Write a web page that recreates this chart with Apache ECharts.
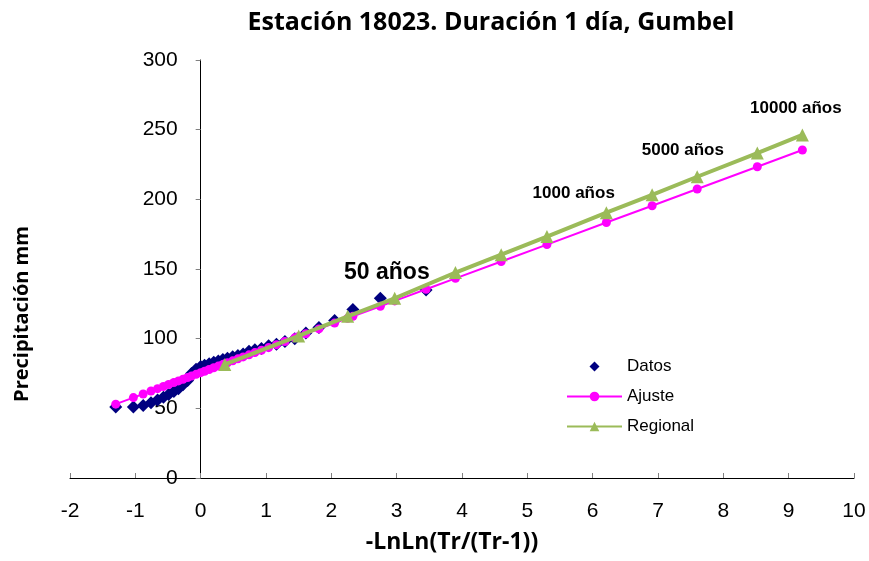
<!DOCTYPE html>
<html><head><meta charset="utf-8">
<script src="https://cdn.jsdelivr.net/npm/echarts@6/dist/echarts.min.js"></script>
<style>html,body{margin:0;padding:0;background:#fff}#c{width:869px;height:561px}</style>
</head><body><div id="c"></div>
<script>
// ---- data ----
const datosX = [-1.30,-1.03,-0.88,-0.76,-0.66,-0.57,-0.49,-0.41,-0.34,-0.27,-0.20,-0.14,-0.07,0.00,0.06,0.13,0.20,0.27,0.34,0.41,0.49,0.57,0.65,0.74,0.83,0.93,1.04,1.16,1.29,1.44,1.61,1.81,2.05,2.33,2.75,3.45];
const datosY = [51,51,52,54,56,58,60,62,64,67,70,75,78,80,81,82,83,84,85,86,87,88,89,91,92,93,95,96,98,100,104,108,113,121,129,135];

const ajusteX = [-1.30,-1.03,-0.88,-0.76,-0.66,-0.57,-0.49,-0.41,-0.34,-0.27,-0.20,-0.14,-0.07,0.00,0.06,0.13,0.20,0.27,0.34,0.37,0.41,0.49,0.57,0.65,0.74,0.83,0.93,1.04,1.16,1.29,1.44,1.50,1.61,1.81,2.05,2.25,2.33,2.75,2.97,3.45,3.90,4.60,5.30,6.21,6.91,7.60,8.52,9.21];
const ajusteY = [53.0,57.7,60.3,62.4,64.1,65.7,67.1,68.5,69.7,70.9,72.1,73.2,74.4,75.6,76.6,77.9,79.1,80.3,81.5,82.0,82.7,84.1,85.5,86.9,88.4,90.0,91.7,93.6,95.7,98.0,100.6,101.6,103.5,107.0,111.2,114.6,116.0,123.3,127.1,135.5,143.3,155.4,167.5,183.4,195.4,207.4,223.4,235.4];

const regionalX = [0.37,1.50,2.25,2.97,3.90,4.60,5.30,6.21,6.91,7.60,8.52,9.21];
const regionalY = [81.5,102.0,116.0,129.0,147.4,160.3,173.3,190.4,203.2,216.2,233.2,246.2];

const annoText = ['50 años','1000 años','5000 años','10000 años'];
const annoX = [2.85,5.71,7.38,9.11];
const annoY = [147.5,204.5,235.5,265];
const annoSize = [23,17,17,17];

const xMin = -2, xMax = 10, xStep = 1;
const yMin = 0, yMax = 300, yStep = 50;

const titleText = 'Estación 18023. Duración 1 día, Gumbel';
const xName = '-LnLn(Tr/(Tr-1))';
const yName = 'Precipitación mm';

const zip = (a, b) => a.map((v, i) => [v, b[i]]);

const chart = echarts.init(document.getElementById('c'), null, {renderer: 'canvas'});
const sans = 'Liberation Sans, Arial, sans-serif';
const head = 'Open Sans, sans-serif';

const gridLeft = 70, gridRight = 15;
const plotW = 869 - gridLeft - gridRight;
// y axis sits at x = 0 of the x axis
const yAxisOffset = -plotW * (0 - xMin) / (xMax - xMin);

chart.setOption({
  animation: false,
  backgroundColor: '#ffffff',
  grid: {left: gridLeft, right: gridRight, top: 60, bottom: 83, containLabel: false},
  xAxis: {
    type: 'value', min: xMin, max: xMax, interval: xStep,
    axisLine: {onZero: false, lineStyle: {color: '#000', width: 1}},
    axisTick: {inside: true, length: 5, lineStyle: {color: '#808080'}},
    axisLabel: {margin: 23, fontFamily: sans, fontSize: 21, color: '#000'},
    splitLine: {show: false}
  },
  yAxis: {
    type: 'value', min: yMin, max: yMax, interval: yStep,
    position: 'left', offset: yAxisOffset,
    axisLine: {onZero: false, lineStyle: {color: '#000', width: 1}},
    axisTick: {inside: false, length: 5, lineStyle: {color: '#808080'}},
    axisLabel: {margin: 23, fontFamily: sans, fontSize: 21, color: '#000'},
    splitLine: {show: false}
  },
  legend: {
    orient: 'vertical', left: 561, top: 353,
    itemWidth: 55, itemHeight: 12, itemGap: 13,
    textStyle: {fontFamily: sans, fontSize: 17, color: '#000'},
    data: [
      {name: 'Datos', icon: 'path://M0,0M55,12M27.5,1L32.5,6L27.5,11L22.5,6Z'},
      'Ajuste', 'Regional'
    ]
  },
  graphic: [
    {type: 'text', x: 491, y: 23, style: {text: titleText, fontFamily: head, fontWeight: 'bold', fontSize: 25, fill: '#000', align: 'center', verticalAlign: 'middle'}},
    {type: 'text', x: 452, y: 542, style: {text: xName, fontFamily: head, fontWeight: 'bold', fontSize: 23, fill: '#000', align: 'center', verticalAlign: 'middle'}},
    {type: 'text', x: 22, y: 314, rotation: Math.PI / 2, style: {text: yName, fontFamily: head, fontWeight: 'bold', fontSize: 20, fill: '#000', align: 'center', verticalAlign: 'middle'}}
  ],
  series: [
    {
      name: 'Datos', type: 'scatter', symbol: 'diamond', symbolSize: 13,
      itemStyle: {color: '#000080', opacity: 1}, data: zip(datosX, datosY), z: 2
    },
    {
      name: 'Ajuste', type: 'line', symbol: 'circle', symbolSize: 9, showSymbol: true,
      lineStyle: {color: '#FF00FF', width: 2}, itemStyle: {color: '#FF00FF', opacity: 1},
      data: zip(ajusteX, ajusteY), z: 3
    },
    {
      name: 'Regional', type: 'line', symbol: 'triangle', symbolSize: 13, showSymbol: true,
      lineStyle: {color: '#9BBB59', width: 4}, itemStyle: {color: '#9BBB59', opacity: 1},
      data: zip(regionalX, regionalY), z: 4
    },
    {
      name: 'anotaciones', type: 'scatter', symbolSize: 0, silent: true, z: 5,
      itemStyle: {opacity: 1},
      data: annoText.map((t, i) => ({
        name: t, value: [annoX[i], annoY[i]],
        label: {show: true, position: 'inside', formatter: '{b}', fontFamily: sans, fontWeight: 'bold', fontSize: annoSize[i], color: '#000'}
      }))
    }
  ]
});
</script>
</body></html>
